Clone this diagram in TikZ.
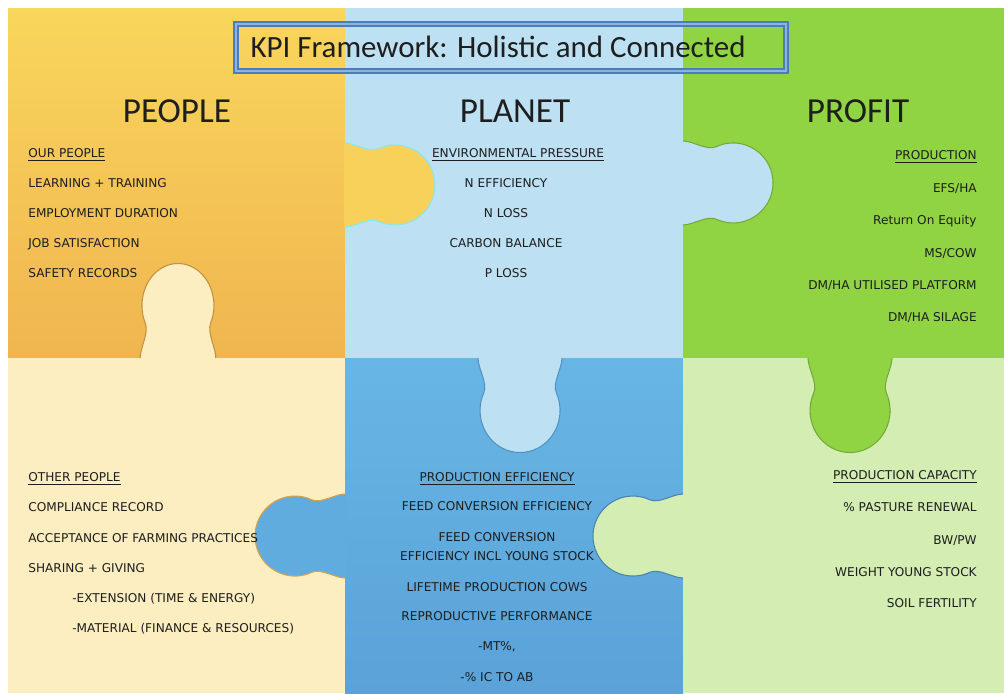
\documentclass[tikz,border=0pt]{standalone}
\usepackage{fontspec}
\setmainfont{DejaVu Sans}
\newfontfamily\calib{Carlito}
\usepackage{tikz}
\usetikzlibrary{positioning}
\usetikzlibrary{calc}

\definecolor{ink}{HTML}{1E1E1E}
\definecolor{tl top}{HTML}{F9D65C}
\definecolor{tl bot}{HTML}{F0B550}
\definecolor{tm fill}{HTML}{BDE0F3}
\definecolor{tr fill}{HTML}{90D443}
\definecolor{bl fill}{HTML}{FCEEC0}
\definecolor{bm top}{HTML}{68B6E5}
\definecolor{bm bot}{HTML}{5AA2D8}
\definecolor{br fill}{HTML}{D3EDB2}
\definecolor{box blue}{HTML}{4A7EBB}
\definecolor{box light}{HTML}{8FB3DC}

\tikzstyle{item}=[inner sep=0pt,text=ink,font=\fontsize{6.9}{8}\selectfont]
\tikzstyle{title}=[inner sep=0pt,text=ink,font=\calib\fontsize{20}{22}\selectfont]

\begin{document}
\begin{tikzpicture}[
  x=0.02cm,y=-0.02cm,
  knob/.pic={
    \path[pic actions,draw=none] (-1,-42) -- (0,-42)
      .. controls (10,-42) and (24.1,-32.1) .. (33.1,-36.3)
      arc[start angle=-115,end angle=115,radius=40]
      .. controls (24.1,32.1) and (10,42) .. (0,42) -- (-1,42) -- cycle;
    \path[pic actions,fill=none] (0,-42)
      .. controls (10,-42) and (24.1,-32.1) .. (33.1,-36.3)
      arc[start angle=-115,end angle=115,radius=40]
      .. controls (24.1,32.1) and (10,42) .. (0,42);
  },
  tab/.style={line width=0.6pt},
]
\useasboundingbox (0,0) rectangle (1004,693);
\fill[white] (0,0) rectangle (1004,693);

% the six pieces
\shade[top color=tl top,bottom color=tl bot] (8,8) rectangle (345,358);
\fill[tm fill] (345,8) rectangle (683,358);
\fill[tr fill] (683,8) rectangle (1004,358);
\fill[bl fill] (8,358) rectangle (345,693);
\shade[top color=bm top,bottom color=bm bot] (345,358) rectangle (683,693);
\fill[br fill] (683,358) rectangle (1004,693);

% tabs
\pic[tab,fill=tl top!85!tl bot,draw=tm fill!70!cyan] at (345,185) {knob};
\pic[tab,fill=tm fill,draw=tr fill!80!black] at (683,183) {knob};
\pic[tab,fill=bl fill,draw=tl bot!80!black,rotate=90,xscale=1.05,yscale=0.9] at (178,358) {knob};
\pic[tab,fill=tm fill,draw=bm bot!90!black,rotate=-90,xscale=1.05] at (520,358) {knob};
\pic[tab,fill=tr fill,draw=tr fill!80!black,rotate=-90,xscale=1.05] at (850,358) {knob};
\pic[tab,fill=bm bot!50!bm top,draw=tl bot!90!black,rotate=180] at (345,536) {knob};
\pic[tab,fill=br fill,draw=bm bot!80!black,rotate=180] at (683,536) {knob};

% header
\draw[box blue,line width=0.9pt,double=box light,double distance=1.2pt] (236,24) rectangle (786,71);
\node[title,font=\calib\fontsize{17.6}{20}\selectfont] (kpi) at (498,47) {KPI Framework: Holistic and Connected};

\node[title] (people) at (177,111) {PEOPLE};
\node[title] (planet) at (515,111) {PLANET};
\node[title] (profit) at (858,111) {PROFIT};

% people
\node[item,anchor=mid west] (our) at (28,153) {\underline{OUR PEOPLE}};
\foreach \t/\y [count=\i] in {{LEARNING + TRAINING}/183,{EMPLOYMENT DURATION}/213,
  {JOB SATISFACTION}/243,{SAFETY RECORDS}/273}
  \node[item,anchor=mid west] (our\i) at (28,\y) {\t};

\node[item,anchor=mid west] (other) at (28,477) {\underline{OTHER PEOPLE}};
\foreach \t/\y [count=\i] in {{COMPLIANCE RECORD}/507,{ACCEPTANCE OF FARMING PRACTICES}/538,
  {SHARING + GIVING}/568}
  \node[item,anchor=mid west] (other\i) at (28,\y) {\t};
\node[item,anchor=mid west] (ext) at (72,598) {-EXTENSION (TIME \& ENERGY)};
\node[item,anchor=mid west] (mat) at (72,628) {-MATERIAL (FINANCE \& RESOURCES)};

% planet
\node[item,anchor=mid] (env) at (518,153) {\underline{ENVIRONMENTAL PRESSURE}};
\foreach \t/\y [count=\i] in {{N EFFICIENCY}/183,{N LOSS}/213,{CARBON BALANCE}/243,{P LOSS}/273}
  \node[item,anchor=mid] (env\i) at (506,\y) {\t};

\node[item,anchor=mid] (eff) at (497,477) {\underline{PRODUCTION EFFICIENCY}};
\foreach \t/\y [count=\i] in {{FEED CONVERSION EFFICIENCY}/506,{FEED CONVERSION}/537,
  {EFFICIENCY INCL YOUNG STOCK}/556,{LIFETIME PRODUCTION COWS}/587,
  {REPRODUCTIVE PERFORMANCE}/616,{-MT\%,}/646,{-\% IC TO AB}/677}
  \node[item,anchor=mid] (eff\i) at (497,\y) {\t};

% profit
\node[item,anchor=mid east] (prod) at (977,155) {\underline{PRODUCTION}};
\foreach \t/\y [count=\i] in {{EFS/HA}/188,{Return On Equity}/220,{MS/COW}/253,
  {DM/HA UTILISED PLATFORM}/285,{DM/HA SILAGE}/317}
  \node[item,anchor=mid east] (prod\i) at (977,\y) {\t};

\node[item,anchor=mid east] (cap) at (977,475) {\underline{PRODUCTION CAPACITY}};
\foreach \t/\y [count=\i] in {{\% PASTURE RENEWAL}/507,{BW/PW}/540,
  {WEIGHT YOUNG STOCK}/572,{SOIL FERTILITY}/603}
  \node[item,anchor=mid east] (cap\i) at (977,\y) {\t};
\end{tikzpicture}
\end{document}
